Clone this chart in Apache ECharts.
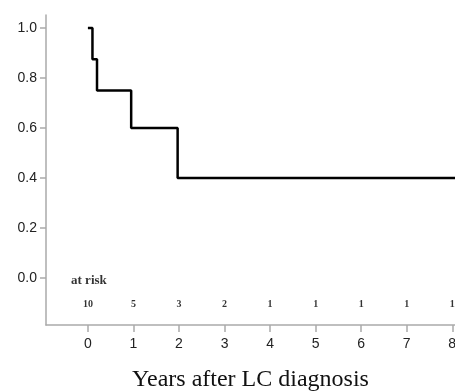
<!DOCTYPE html>
<html>
<head>
<meta charset="utf-8">
<script src="https://cdn.jsdelivr.net/npm/echarts@6/dist/echarts.min.js"></script>
<style>
    html, body { margin: 0; padding: 0; background: #fff; }
    #km { width: 455px; height: 392px; }
</style>
</head>
<body>
<div id="km"></div>
<script>
// KM curve (step points)
var times = [0, 0.1, 0.2, 0.95, 1.97, 8.06];
var survival = [1.0, 0.875, 0.75, 0.6, 0.4, 0.4];
// numbers at risk per year
var riskYears = [0, 1, 2, 3, 4, 5, 6, 7, 8];
var atRisk = [10, 5, 3, 2, 1, 1, 1, 1, 1];
var xTicks = [0, 1, 2, 3, 4, 5, 6, 7, 8];
var yTicks = [0, 0.2, 0.4, 0.6, 0.8, 1.0];

var myChart = echarts.init(document.getElementById('km'));

var curveData = times.map(function (t, i) { return [t, survival[i]]; });
var riskData = riskYears.map(function (t, i) { return [t, -0.104, atRisk[i]]; });

var option = {
    animation: false,
    grid: {
        left: 46,
        right: 0,
        top: 15,
        bottom: 67,
        outerBoundsMode: 'none'
    },
    xAxis: {
        type: 'value',
        min: -0.92,
        max: 8.06,
        name: 'Years after LC diagnosis',
        nameLocation: 'middle',
        nameGap: 43,
        nameTextStyle: {
            fontFamily: 'Liberation Serif',
            fontSize: 24,
            color: '#111'
        },
        axisLine: { onZero: false, lineStyle: { color: '#aaa', width: 1.5 } },
        axisTick: {
            customValues: xTicks,
            length: 7,
            lineStyle: { color: '#aaa', width: 1.5 }
        },
        axisLabel: {
            customValues: xTicks,
            color: '#222',
            fontFamily: 'Liberation Sans',
            fontSize: 14,
            margin: 12
        },
        splitLine: { show: false }
    },
    yAxis: {
        type: 'value',
        min: -0.188,
        max: 1.052,
        axisLine: { show: true, onZero: false, lineStyle: { color: '#aaa', width: 1.5 } },
        axisTick: {
            show: true,
            customValues: yTicks,
            length: 6,
            lineStyle: { color: '#aaa', width: 1.5 }
        },
        axisLabel: {
            customValues: yTicks,
            color: '#222',
            fontFamily: 'Liberation Sans',
            fontSize: 14,
            margin: 9,
            formatter: function (v) { return v.toFixed(1); }
        },
        splitLine: { show: false }
    },
    series: [{
        // survival curve
        type: 'line',
        step: 'end',
        data: curveData,
        showSymbol: false,
        silent: true,
        lineStyle: { color: '#000', width: 2.5 }
    }, {
        // numbers at risk
        type: 'scatter',
        data: riskData,
        symbolSize: 0,
        silent: true,
        label: {
            show: true,
            position: 'inside',
            formatter: function (p) { return p.value[2]; },
            color: '#000',
            fontFamily: 'Liberation Serif',
            fontWeight: 'bold',
            fontSize: 10
        }
    }, {
        // "at risk" header
        type: 'scatter',
        data: [[-0.48, -0.01]],
        symbolSize: 0,
        silent: true,
        label: {
            show: true,
            position: 'insideLeft',
            align: 'left',
            formatter: 'at risk',
            color: '#000',
            fontFamily: 'Liberation Serif',
            fontWeight: 'bold',
            fontSize: 13
        }
    }]
};
myChart.setOption(option);
</script>
</body>
</html>
